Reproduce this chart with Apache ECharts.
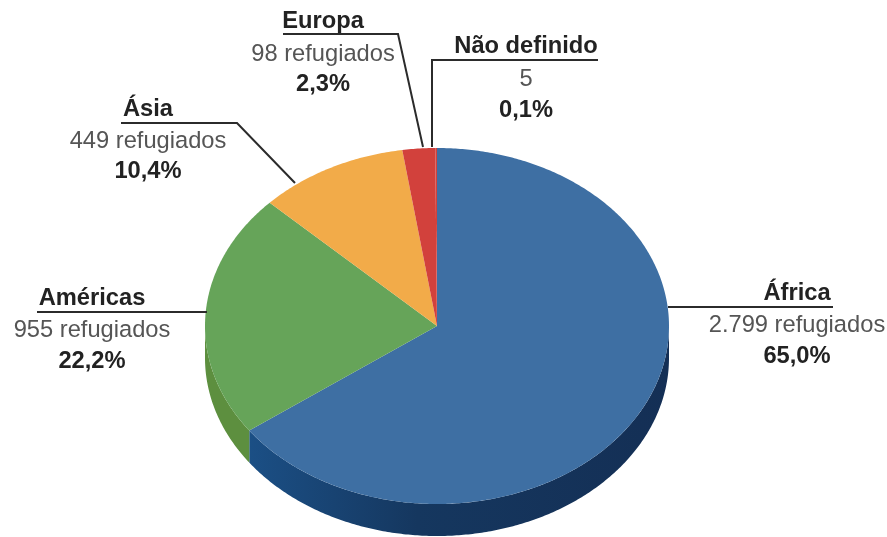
<!DOCTYPE html>
<html>
<head>
<meta charset="utf-8">
<style>
  html, body { margin: 0; padding: 0; background: #fff; }
  #chart { width: 887px; height: 537px; }
</style>
<script src="https://cdn.jsdelivr.net/npm/echarts@6/dist/echarts.min.js"></script>
</head>
<body>
<div id="chart"></div>
<script>
  // dados
  var regioes = ['África', 'Américas', 'Ásia', 'Europa', 'Não definido'];
  var refugiados = [2799, 955, 449, 98, 5];
  var rotulosQtd = ['2.799 refugiados', '955 refugiados', '449 refugiados', '98 refugiados', '5'];
  var rotulosPct = ['65,0%', '22,2%', '10,4%', '2,3%', '0,1%'];

  var coresTopo = ['#3e6fa3', '#66a459', '#f2ab49', '#d2413c', '#d2413c'];
  var coresLado = ['#16365f', '#5d8f3f', '#c98a33', '#a5302c', '#a5302c'];

  var chart = echarts.init(document.getElementById('chart'));

  // pizza em elipse, o pie do echarts nao faz isso
  var cx = 437, cy = 326, rx = 232, ry = 178, depth = 32;
  var total = refugiados.reduce(function (a, b) { return a + b; }, 0);

  function angulos(idx) {
    var acum = 0;
    for (var i = 0; i < idx; i++) acum += refugiados[i];
    return [acum / total * Math.PI * 2, (acum + refugiados[idx]) / total * Math.PI * 2];
  }
  function ponto(a, dy) {
    return [cx + rx * Math.sin(a), cy - ry * Math.cos(a) + dy];
  }
  function arco(a0, a1, dy) {
    var pts = [];
    var n = Math.max(2, Math.ceil((a1 - a0) / 0.01));
    for (var i = 0; i <= n; i++) pts.push(ponto(a0 + (a1 - a0) * i / n, dy));
    return pts;
  }

  function renderTopo(params, api) {
    var a = angulos(params.dataIndex);
    return {
      type: 'polygon',
      shape: { points: [[cx, cy]].concat(arco(a[0], a[1], 0)) },
      style: { fill: coresTopo[params.dataIndex] }
    };
  }
  function renderLado(params, api) {
    var a = angulos(params.dataIndex);
    // so a parte da frente aparece (90 a 270 graus)
    var a0 = Math.max(a[0], Math.PI / 2), a1 = Math.min(a[1], Math.PI * 1.5);
    if (a1 <= a0) return null;
    var pts = arco(a0, a1, 0).concat(arco(a0, a1, depth).reverse());
    var fill = coresLado[params.dataIndex];
    if (params.dataIndex === 0) {
      fill = new echarts.graphic.LinearGradient(0, 0, 1, 0, [
        { offset: 0, color: '#1b4f85' },
        { offset: 0.4, color: '#15375f' },
        { offset: 1, color: '#142f55' }
      ]);
    }
    return { type: 'polygon', shape: { points: pts }, style: { fill: fill } };
  }

  var fonte = '"Liberation Sans", Arial, sans-serif';
  var corLinha = '#2b2b2b';

  function texto(str, x, y, bold) {
    return {
      type: 'text',
      x: x,
      y: y,
      z: 10,
      style: {
        text: str,
        fill: bold ? '#222' : '#555',
        font: (bold ? 'bold ' : '') + '23.7px ' + fonte,
        align: 'center',
        verticalAlign: 'bottom'
      }
    };
  }
  function linha(pts) {
    return {
      type: 'polyline',
      z: 9,
      shape: { points: pts },
      style: { stroke: corLinha, lineWidth: 2, fill: null }
    };
  }

  // posicoes: centro do texto e base de cada uma das 3 linhas
  var posRotulos = [
    { x: 797, y: [305, 337, 368] },
    { x: 92, y: [310, 342, 373] },
    { x: 148, y: [121, 153, 183] },
    { x: 323, y: [33, 66, 96] },
    { x: 526, y: [58, 91, 122] }
  ];
  var elementos = [
    linha([[668, 307], [833, 307]]),
    linha([[37, 312], [207, 312]]),
    linha([[121, 123], [237, 123], [295, 183]]),
    linha([[283, 34], [398, 34], [423, 147]]),
    linha([[598, 60], [432, 60], [432, 147]])
  ];
  regioes.forEach(function (nome, i) {
    var p = posRotulos[i];
    elementos.push(texto(nome, p.x, p.y[0], true));
    elementos.push(texto(rotulosQtd[i], p.x, p.y[1], false));
    elementos.push(texto(rotulosPct[i], p.x, p.y[2], true));
  });

  chart.setOption({
    animation: false,
    backgroundColor: '#fff',
    graphic: { elements: elementos },
    series: [
      { type: 'custom', coordinateSystem: 'none', renderItem: renderLado, data: refugiados, z: 1, silent: true },
      { type: 'custom', coordinateSystem: 'none', renderItem: renderTopo, data: refugiados, z: 2, silent: true }
    ]
  });
</script>
</body>
</html>
